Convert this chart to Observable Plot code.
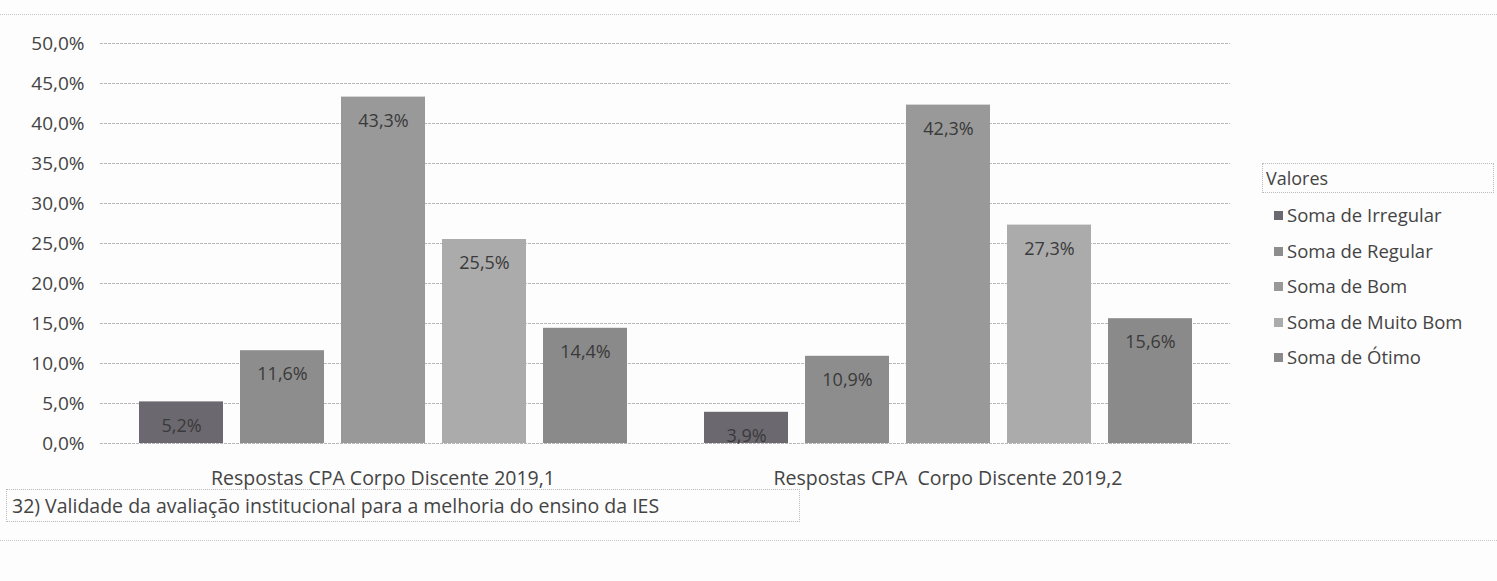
<!DOCTYPE html>
<html>
<head>
<meta charset="utf-8">
<script src="https://cdn.jsdelivr.net/npm/d3@7"></script>
<script src="https://cdn.jsdelivr.net/npm/@observablehq/plot@0.6"></script>
<style>
  html, body { margin: 0; padding: 0; background: #fdfdfd; }
  #wrap { position: relative; width: 1497px; height: 581px; font-family: "Open Sans", sans-serif; color: #444; overflow: hidden; }
  #chart { position: absolute; left: 0; top: 0; }
  #legend { position: absolute; left: 1262px; top: 163px; width: 232px; }
  #legend .title { font-size: 18px; padding: 2px 3px; border: 1px dotted #bbb; height: 24px; line-height: 24px; margin-bottom: 4px; }
  #legend .item { font-size: 18.5px; height: 35.5px; line-height: 35.5px; padding-left: 12px; white-space: nowrap; }
  #legend .sw { display: inline-block; width: 9px; height: 9px; margin-right: 4px; vertical-align: 2px; }
  #caption { position: absolute; left: 6px; top: 489px; width: 794px; height: 33px; border: 1px dotted #bbb; font-size: 19.5px; line-height: 31px; padding-left: 5px; box-sizing: border-box; white-space: nowrap; }
  .hline { position: absolute; left: 0; width: 1497px; border-top: 1px dotted #c8c8c8; }
</style>
</head>
<body>
<div id="wrap">
  <div class="hline" style="top:14px"></div>
  <div class="hline" style="top:540px"></div>
  <div id="chart"></div>
  <div id="legend"></div>
  <div id="caption"></div>
</div>
<script>
const groups = ["Respostas CPA Corpo Discente 2019,1", "Respostas CPA  Corpo Discente 2019,2"];
const series = ["Soma de Irregular", "Soma de Regular", "Soma de Bom", "Soma de Muito Bom", "Soma de Ótimo"];
const values2019_1 = [5.2, 11.6, 43.3, 25.5, 14.4];
const values2019_2 = [3.9, 10.9, 42.3, 27.3, 15.6];
const colors = ["#6c6870", "#8d8d8d", "#999999", "#ababab", "#8a8a8a"];
const yTicks = [0, 5, 10, 15, 20, 25, 30, 35, 40, 45, 50];
const legendTitle = "Valores";
const captionText = "32) Validade da avaliação institucional para a melhoria do ensino da IES";

const data = [];
[values2019_1, values2019_2].forEach((vals, gi) => {
  vals.forEach((v, si) => data.push({group: groups[gi], series: series[si], value: v}));
});

const fmt = d => d.toFixed(1).replace(".", ",") + "%";

const chart = Plot.plot({
  width: 1250,
  height: 495,
  marginLeft: 100,
  marginRight: 20,
  marginTop: 43,
  marginBottom: 52,
  style: {fontFamily: "Open Sans, sans-serif", fontSize: "18px", color: "#444", background: "transparent"},
  fx: {domain: groups, padding: 0, label: null, axis: null},
  x: {domain: series, paddingInner: 0.17, paddingOuter: 0.36, axis: null},
  y: {domain: [0, 50], ticks: yTicks, label: null},
  color: {domain: series, range: colors},
  marks: [
    Plot.gridY(yTicks, {stroke: "#b8b8b8", strokeOpacity: 1, strokeDasharray: "3,1"}),
    Plot.axisY(yTicks, {tickSize: 0, tickPadding: 16, tickFormat: fmt, fontSize: 19, fill: "#444"}),
    Plot.axisFx({anchor: "bottom", tickSize: 0, tickPadding: 28, fontSize: 19.5, fill: "#444", label: null}),
    Plot.barY(data, {fx: "group", x: "series", y: "value", fill: "series"}),
    Plot.text(data, {fx: "group", x: "series", y: "value", text: d => fmt(d.value), dy: 24, fill: "#3a3a3a", fontSize: 18})
  ]
});
document.getElementById("chart").appendChild(chart);

const legend = document.getElementById("legend");
legend.innerHTML = `<div class="title">${legendTitle}</div>` +
  series.map((s, i) => `<div class="item"><span class="sw" style="background:${colors[i]}"></span>${s}</div>`).join("");
document.getElementById("caption").textContent = captionText;
</script>
</body>
</html>
